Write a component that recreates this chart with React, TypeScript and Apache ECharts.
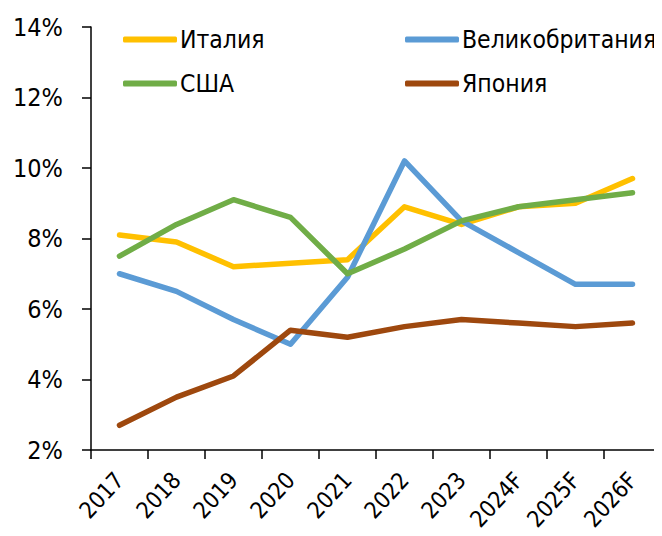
import React, { useEffect, useRef } from "react";
import * as echarts from "echarts";

const categories = ["2017", "2018", "2019", "2020", "2021", "2022", "2023", "2024F", "2025F", "2026F"];
const italy = [8.1, 7.9, 7.2, 7.3, 7.4, 8.9, 8.4, 8.9, 9.0, 9.7];
const uk = [7.0, 6.5, 5.7, 5.0, 6.9, 10.2, 8.5, 7.6, 6.7, 6.7];
const usa = [7.5, 8.4, 9.1, 8.6, 7.0, 7.7, 8.5, 8.9, 9.1, 9.3];
const japan = [2.7, 3.5, 4.1, 5.4, 5.2, 5.5, 5.7, 5.6, 5.5, 5.6];

const seriesNames = ["Италия", "Великобритания", "США", "Япония"];
const seriesData = [italy, uk, usa, japan];
const colors = ["#FFC000", "#5B9BD5", "#70AD47", "#9E480E"];

const FONT = "DejaVu Sans Condensed";

export default function App() {
  const ref = useRef<HTMLDivElement>(null);
  useEffect(() => {
    if (!ref.current) return;
    const chart = echarts.init(ref.current, undefined, { renderer: "svg" });
    const legendPos = [
      { left: 123, top: 27 },
      { left: 405, top: 27 },
      { left: 123, top: 71 },
      { left: 405, top: 71 },
    ];
    chart.setOption({
      animation: false,
      grid: { left: 91, right: 1, top: 27, bottom: 86, containLabel: false, outerBoundsMode: "none" },
      legend: seriesNames.map((n, i) => ({
        data: [n],
        left: legendPos[i].left,
        top: legendPos[i].top,
        icon: "roundRect",
        itemWidth: 54,
        itemHeight: 6,
        itemGap: 4,
        padding: 0,
        textStyle: { fontFamily: FONT, fontSize: 24.5, color: "#000", padding: [0, 0, 0, -2] },
      })),
      xAxis: {
        type: "category",
        data: categories,
        boundaryGap: true,
        axisLine: { lineStyle: { color: "#000", width: 1.5 } },
        axisTick: { show: true, length: 9, inside: false, alignWithLabel: false, lineStyle: { color: "#000", width: 1.5 } },
        axisLabel: { rotate: 47, fontFamily: FONT, fontSize: 23, color: "#000", margin: 26, interval: 0 },
        splitLine: { show: false },
      },
      yAxis: {
        type: "value",
        min: 2,
        max: 14,
        interval: 2,
        axisLine: { show: true, lineStyle: { color: "#000", width: 1.5 } },
        axisTick: { show: true, length: 9, lineStyle: { color: "#000", width: 1.5 } },
        axisLabel: { formatter: "{value}%", fontFamily: FONT, fontSize: 25, color: "#000", margin: 28 },
        splitLine: { show: false },
      },
      series: seriesNames.map((n, i) => ({
        name: n,
        type: "line",
        data: seriesData[i],
        symbol: "none",
        lineStyle: { width: 5.5, color: colors[i], cap: "round", join: "round" },
        itemStyle: { color: colors[i] },
        z: i === 3 ? 3 : 2 + i * 0.1,
      })),
    });
    return () => chart.dispose();
  }, []);
  return <div ref={ref} style={{ width: 662, height: 536, margin: -8 }} />;
}
